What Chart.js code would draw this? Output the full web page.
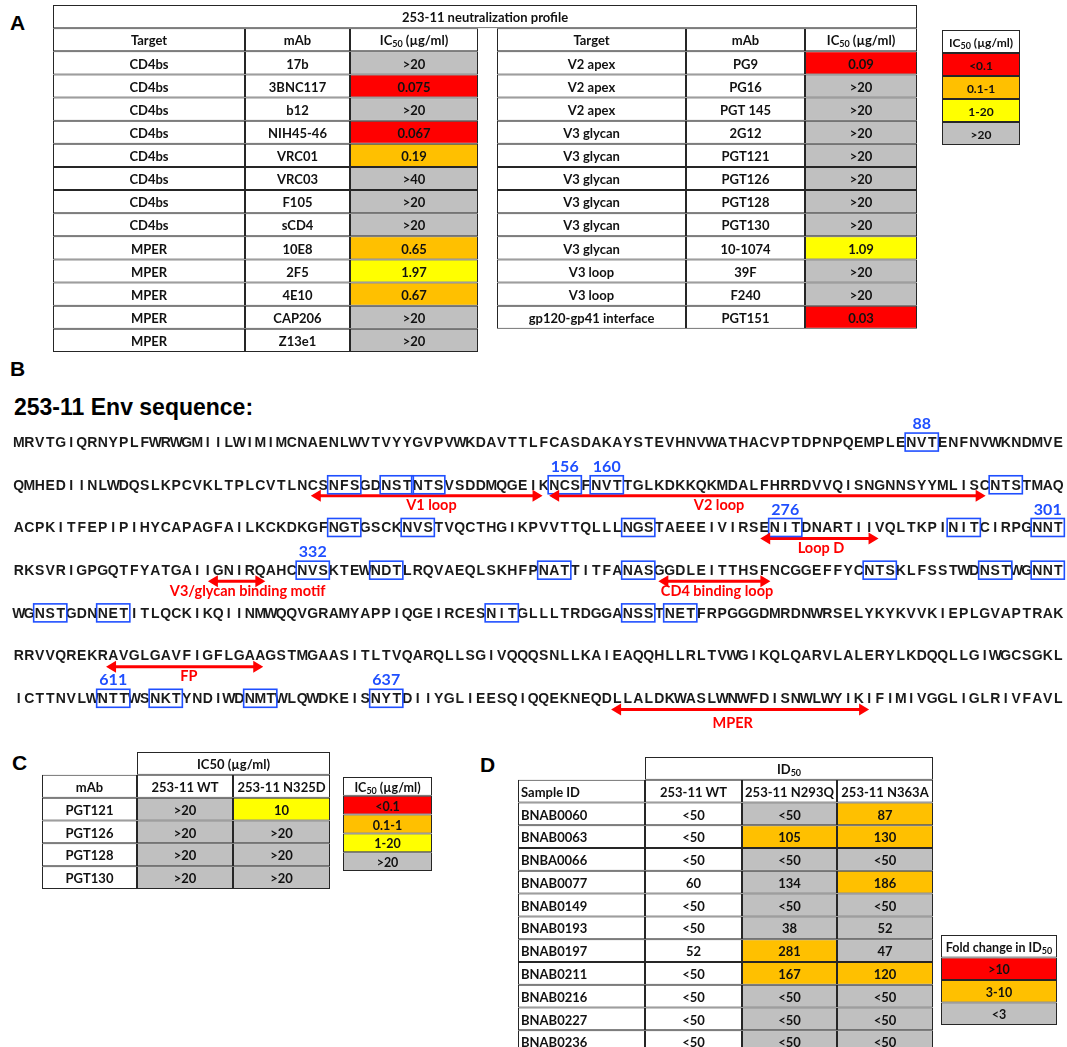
<!DOCTYPE html>
<html>
<head>
<meta charset="utf-8">
<script src="https://cdn.jsdelivr.net/npm/chart.js@4.4.1/dist/chart.umd.min.js"></script>
<style>
  html, body { margin: 0; padding: 0; background: #fff; width: 1067px; height: 1047px; overflow: hidden; position: relative; }
  canvas { position: absolute; }
  .lbl { position: absolute; font-family: "Liberation Sans", Arial, sans-serif; font-weight: bold; font-size: 21px; line-height: 21px; color: #000; }
  .title { position: absolute; font-family: "Liberation Sans", Arial, sans-serif; font-weight: bold; font-size: 23px; line-height: 23px; color: #000; }
</style>
</head>
<body>
<div class="lbl" style="left:10px;top:12px">A</div>
<div class="lbl" style="left:10px;top:358px">B</div>
<div class="lbl" style="left:12px;top:752px">C</div>
<div class="lbl" style="left:480px;top:754px">D</div>
<div class="title" style="left:14px;top:396px">253-11 Env sequence:</div>

<canvas id="tabA" width="864" height="347" style="left:53px;top:5px"></canvas>
<canvas id="legA" width="78" height="115" style="left:942px;top:30px"></canvas>
<canvas id="seqB" width="1067" height="363" style="left:0px;top:378px"></canvas>
<canvas id="tabC" width="288" height="137" style="left:42px;top:752px"></canvas>
<canvas id="legC" width="89" height="94" style="left:343px;top:777px"></canvas>
<canvas id="tabD" width="415" height="296" style="left:518px;top:757px"></canvas>
<canvas id="legD" width="116" height="90" style="left:941px;top:935px"></canvas>

<script>
// ---- panel A data ----
const targetsLeft = ['CD4bs','CD4bs','CD4bs','CD4bs','CD4bs','CD4bs','CD4bs','CD4bs','MPER','MPER','MPER','MPER','MPER'];
const mabsLeft = ['17b','3BNC117','b12','NIH45-46','VRC01','VRC03','F105','sCD4','10E8','2F5','4E10','CAP206','Z13e1'];
const ic50Left = ['>20','0.075','>20','0.067','0.19','>40','>20','>20','0.65','1.97','0.67','>20','>20'];
const targetsRight = ['V2 apex','V2 apex','V2 apex','V3 glycan','V3 glycan','V3 glycan','V3 glycan','V3 glycan','V3 glycan','V3 loop','V3 loop','gp120-gp41 interface'];
const mabsRight = ['PG9','PG16','PGT 145','2G12','PGT121','PGT126','PGT128','PGT130','10-1074','39F','F240','PGT151'];
const ic50Right = ['0.09','>20','>20','>20','>20','>20','>20','>20','1.09','>20','>20','0.03'];
const icBins = ['<0.1','0.1-1','1-20','>20'];

// ---- panel B data ----
const seqLines = [
  'MRVTGIQRNYPLFWRWGMIILWIMIMCNAENLWVTVYYGVPVWKDAVTTLFCASDAKAYSTEVHNVWATHACVPTDPNPQEMPLENVTENFNVWKNDMVE',
  'QMHEDIINLWDQSLKPCVKLTPLCVTLNCSNFSGDNSTNTSVSDDMQGEIKNCSFNVTTGLKDKKQKMDALFHRRDVVQISNGNNSYYMLISCNTSTMAQ',
  'ACPKITFEPIPIHYCAPAGFAILKCKDKGFNGTGSCKNVSTVQCTHGIKPVVTTQLLLNGSTAEEEIVIRSENITDNARTIIVQLTKPINITCIRPGNNT',
  'RKSVRIGPGQTFYATGAIIGNIRQAHCNVSKTEWNDTLRQVAEQLSKHFPNATTITFANASGGDLEITTHSFNCGGEFFYCNTSKLFSSTWDNSTWGNNT',
  'WGNSTGDNNETITLQCKIKQIINMWQQVGRAMYAPPIQGEIRCESNITGLLLTRDGGANSSTNETFRPGGGDMRDNWRSELYKYKVVKIEPLGVAPTRAK',
  'RRVVQREKRAVGLGAVFIGFLGAAGSTMGAASITLTVQARQLLSGIVQQQSNLLKAIEAQQHLLRLTVWGIKQLQARVLALERYLKDQQLLGIWGCSGKL',
  'ICTTNVLWNTTWSNKTYNDIWDNMTWLQWDKEISNYTDIIYGLIEESQIQQEKNEQDLLALDKWASLWNWFDISNWLWYIKIFIMIVGGLIGLRIVFAVL'
];
const sequonLine  = [0, 1, 1, 1, 1, 1, 1, 2, 2, 2, 2, 2, 2, 3, 3, 3, 3, 3, 3, 3, 4, 4, 4, 4, 4, 6, 6, 6, 6];
const sequonStart = [85, 30, 35, 38, 51, 55, 93, 30, 37, 58, 72, 89, 97, 27, 34, 50, 58, 81, 92, 97, 2, 8, 45, 58, 62, 8, 13, 22, 34];
const siteLine  = [0, 1, 1, 2, 2, 3, 6, 6];
const siteStart = [85, 51, 55, 72, 97, 27, 8, 34];
const siteNumber = ['88', '156', '160', '276', '301', '332', '611', '637'];
const regionNames = ['V1 loop', 'V2 loop', 'Loop D', 'V3/glycan binding motif', 'CD4 binding loop', 'FP', 'MPER'];
const regionLine  = [1, 1, 2, 3, 3, 5, 6];
const regionFrom  = [28.6, 51.3, 71.4, 18.8, 61.7, 9.1, 57.2];
const regionTo    = [50.1, 92.3, 82.1, 23.7, 71.8, 23.5, 81.2];
const regionLabelAt = [39.8, 67.2, 76.9, 22.3, 67.0, 16.7, 68.5];

// ---- panel C data ----
const cMabs = ['PGT121','PGT126','PGT128','PGT130'];
const cWT = ['>20','>20','>20','>20'];
const cN325D = ['10','>20','>20','>20'];

// ---- panel D data ----
const dSamples = ['BNAB0060','BNAB0063','BNBA0066','BNAB0077','BNAB0149','BNAB0193','BNAB0197','BNAB0211','BNAB0216','BNAB0227','BNAB0236'];
const dWT    = ['<50','<50','<50','60','<50','<50','52','<50','<50','<50','<50'];
const dN293Q = ['<50','105','<50','134','<50','38','281','167','<50','<50','<50'];
const dN363A = ['87','130','<50','186','<50','52','47','120','<50','<50','<50'];
const dN293QFold = ['<3','3-10','<3','<3','<3','<3','3-10','3-10','<3','<3','<3'];
const dN363AFold = ['3-10','3-10','<3','3-10','<3','<3','<3','3-10','<3','<3','<3'];
const foldBins = ['>10','3-10','<3'];

// ---- styling ----
const RED = '#FF0000', ORANGE = '#FFC000', YELLOW = '#FFFF00', GRAY = '#C0C0C0';
const LINE = '#262626';
const NONE = 'rgba(0,0,0,0)';
const foldColor = { '>10': RED, '3-10': ORANGE, '<3': GRAY };

function icColor(v) {
  if (v[0] === '>') return GRAY;
  const n = parseFloat(v);
  if (n < 0.1) return RED;
  if (n < 1) return ORANGE;
  return YELLOW;
}

// text like "IC_{50} (µg/ml)" -> subscript part
function drawRich(ctx, text, x, y, align, size, color, weight) {
  const parts = text.split(/_\{|\}/);
  const big = (weight || 'bold') + ' ' + size + 'px Lato, sans-serif';
  const small = (weight || 'bold') + ' ' + Math.round(size * 0.72) + 'px Lato, sans-serif';
  ctx.save();
  ctx.textBaseline = 'middle';
  ctx.textAlign = 'left';
  ctx.fillStyle = color || '#111';
  let w = 0; const ws = [];
  parts.forEach((s, k) => { ctx.font = k % 2 ? small : big; const m = ctx.measureText(s).width; ws.push(m); w += m; });
  let cx = align === 'left' ? x : x - w / 2;
  parts.forEach((s, k) => {
    ctx.font = k % 2 ? small : big;
    ctx.fillText(s, cx, k % 2 ? y + 3 : y);
    cx += ws[k];
  });
  ctx.restore();
}

const cellText = {
  id: 'cellText',
  afterDatasetsDraw(chart) {
    const ctx = chart.ctx;
    chart.data.datasets.forEach((ds, di) => {
      const meta = chart.getDatasetMeta(di);
      meta.data.forEach((bar, i) => {
        const t = ds.texts[i];
        if (t === null || t === '') return;
        const p = bar.getProps(['x', 'y', 'base'], true);
        const left = Math.min(p.x, p.base), right = Math.max(p.x, p.base);
        const x = ds.align === 'left' ? left + 3 : (left + right) / 2;
        drawRich(ctx, t, x, p.y + 1.5, ds.align, ds.fontSize || 13);
      });
    });
  }
};

// one table column = one stacked bar dataset; null text = no cell in that row
function column(width, texts, colors, opts) {
  opts = opts || {};
  const blank = opts.blank || [];
  return {
    data: texts.map(t => t === null ? null : width),
    texts: texts,
    backgroundColor: texts.map((t, i) => blank[i] ? NONE : ((colors && colors[i]) || '#fff')),
    borderColor: texts.map((t, i) => blank[i] ? NONE : LINE),
    borderWidth: texts.map((t, i) => blank[i] ? 0 : 1),
    align: opts.align || 'center',
    fontSize: opts.fontSize
  };
}

function makeTable(id, cols) {
  const nRows = cols[0].texts.length;
  let total = 0;
  for (let r = 0; r < nRows; r++) {
    total = Math.max(total, cols.reduce((s, c) => s + (c.data[r] || 0), 0));
  }
  return new Chart(document.getElementById(id), {
    type: 'bar',
    data: { labels: cols[0].texts.map((t, i) => 'r' + i), datasets: cols },
    options: {
      indexAxis: 'y',
      responsive: false,
      animation: false,
      devicePixelRatio: 1,
      events: [],
      layout: { padding: 0 },
      datasets: { bar: { categoryPercentage: 1, barPercentage: 1, borderSkipped: false, inflateAmount: 0 } },
      plugins: { legend: { display: false }, tooltip: { enabled: false } },
      scales: {
        x: { type: 'linear', stacked: true, min: 0, max: total, display: false },
        y: { stacked: true, display: false }
      }
    },
    plugins: [cellText]
  });
}

// ---- panel A table ----
const nA = targetsLeft.length;
const gapA = Array(nA + 1).fill('');
makeTable('tabA', [
  column(864, ['253-11 neutralization profile'].concat(Array(nA + 1).fill(null))),
  column(192, [null, 'Target'].concat(targetsLeft)),
  column(105, [null, 'mAb'].concat(mabsLeft)),
  column(128, [null, 'IC_{50} (\u00B5g/ml)'].concat(ic50Left), ['#fff', '#fff'].concat(ic50Left.map(icColor))),
  column(19, [null].concat(gapA), null, { blank: gapA.map(() => true).concat([true]) }),
  column(189, [null, 'Target'].concat(targetsRight, [null])),
  column(119, [null, 'mAb'].concat(mabsRight, [null])),
  column(112, [null, 'IC_{50} (\u00B5g/ml)'].concat(ic50Right, [null]), ['#fff', '#fff'].concat(ic50Right.map(icColor), ['#fff']))
]);

makeTable('legA', [
  column(78, ['IC_{50} (\u00B5g/ml)'].concat(icBins), ['#fff', RED, ORANGE, YELLOW, GRAY], { fontSize: 12 })
]);
makeTable('legC', [
  column(89, ['IC_{50} (\u00B5g/ml)'].concat(icBins), ['#fff', RED, ORANGE, YELLOW, GRAY], { fontSize: 12.5 })
]);

// ---- panel C table ----
makeTable('tabC', [
  column(95, ['', 'mAb'].concat(cMabs), null, { blank: [true] }),
  column(193, ['IC50 (\u00B5g/ml)'].concat(Array(cMabs.length + 1).fill(null))),
  column(96, [null, '253-11 WT'].concat(cWT), ['#fff', '#fff'].concat(cWT.map(icColor))),
  column(97, [null, '253-11 N325D'].concat(cN325D), ['#fff', '#fff'].concat(cN325D.map(icColor)))
]);

// ---- panel D table ----
makeTable('tabD', [
  column(127, ['', 'Sample ID'].concat(dSamples), null, { blank: [true], align: 'left' }),
  column(288, ['ID_{50}'].concat(Array(dSamples.length + 1).fill(null))),
  column(97, [null, '253-11 WT'].concat(dWT)),
  column(95, [null, '253-11 N293Q'].concat(dN293Q), ['#fff', '#fff'].concat(dN293QFold.map(f => foldColor[f]))),
  column(96, [null, '253-11 N363A'].concat(dN363A), ['#fff', '#fff'].concat(dN363AFold.map(f => foldColor[f])))
]);

makeTable('legD', [
  column(116, ['Fold change in ID_{50}'].concat(foldBins), ['#fff'].concat(foldBins.map(f => foldColor[f])), { fontSize: 12.5 })
]);

// ---- panel B sequence ----
const ARROW_DY = 0.26;   // arrow sits just below the sequence line (line units)
const seqPlugin = {
  id: 'seqPlugin',
  afterDatasetsDraw(chart) {
    const ctx = chart.ctx;
    const xs = chart.scales.x, ys = chart.scales.y;
    ctx.save();
    // residues
    ctx.font = 'bold 14px "Liberation Sans", Arial, sans-serif';
    ctx.fillStyle = '#1a1a1a';
    ctx.textAlign = 'center';
    ctx.textBaseline = 'middle';
    seqLines.forEach((s, li) => {
      const y = ys.getPixelForValue(li);
      for (let i = 0; i < s.length; i++) ctx.fillText(s[i], xs.getPixelForValue(i + 0.5), y + 1);
    });
    // N-glycan sequon boxes
    ctx.strokeStyle = '#1f4fff';
    ctx.lineWidth = 1.6;
    sequonLine.forEach((li, k) => {
      const x0 = xs.getPixelForValue(sequonStart[k] - 0.08);
      const x1 = xs.getPixelForValue(sequonStart[k] + 3.08);
      const y = ys.getPixelForValue(li);
      ctx.strokeRect(x0, y - 9, x1 - x0, 18);
    });
    // site numbers
    ctx.fillStyle = '#1f4fff';
    ctx.font = 'bold 16px Lato, sans-serif';
    siteLine.forEach((li, k) => {
      ctx.fillText(siteNumber[k], xs.getPixelForValue(siteStart[k] + 1.5), ys.getPixelForValue(li) - 18);
    });
    // arrow heads + region labels
    ctx.fillStyle = '#ff0000';
    chart.data.datasets.forEach((ds, di) => {
      const pts = chart.getDatasetMeta(di).data;
      const a = pts[0], b = pts[1];
      const hl = 10, hh = 6;
      ctx.beginPath();
      ctx.moveTo(a.x - 3, a.y); ctx.lineTo(a.x - 3 + hl, a.y - hh); ctx.lineTo(a.x - 3 + hl, a.y + hh); ctx.closePath();
      ctx.moveTo(b.x + 3, b.y); ctx.lineTo(b.x + 3 - hl, b.y - hh); ctx.lineTo(b.x + 3 - hl, b.y + hh); ctx.closePath();
      ctx.fill();
      ctx.font = 'bold 14.5px Lato, sans-serif';
      ctx.fillText(regionNames[di], xs.getPixelForValue(regionLabelAt[di]), ys.getPixelForValue(regionLine[di]) + (regionNames[di] === 'MPER' ? 25 : 21));
    });
    ctx.restore();
  }
};

new Chart(document.getElementById('seqB'), {
  type: 'line',
  data: {
    datasets: regionNames.map((n, k) => ({
      label: n,
      data: [{ x: regionFrom[k], y: regionLine[k] + ARROW_DY }, { x: regionTo[k], y: regionLine[k] + ARROW_DY }],
      borderColor: '#ff0000',
      borderWidth: 3,
      pointRadius: 0,
      borderCapStyle: 'butt'
    }))
  },
  options: {
    responsive: false,
    animation: false,
    devicePixelRatio: 1,
    events: [],
    layout: { padding: { left: 13.5, right: 3.5, top: 0, bottom: 0 } },
    plugins: { legend: { display: false }, tooltip: { enabled: false } },
    scales: {
      x: { type: 'linear', min: 0, max: 100, display: false },
      y: { type: 'linear', min: -1.5, max: 7, reverse: true, display: false }
    }
  },
  plugins: [seqPlugin]
});
</script>
</body>
</html>
